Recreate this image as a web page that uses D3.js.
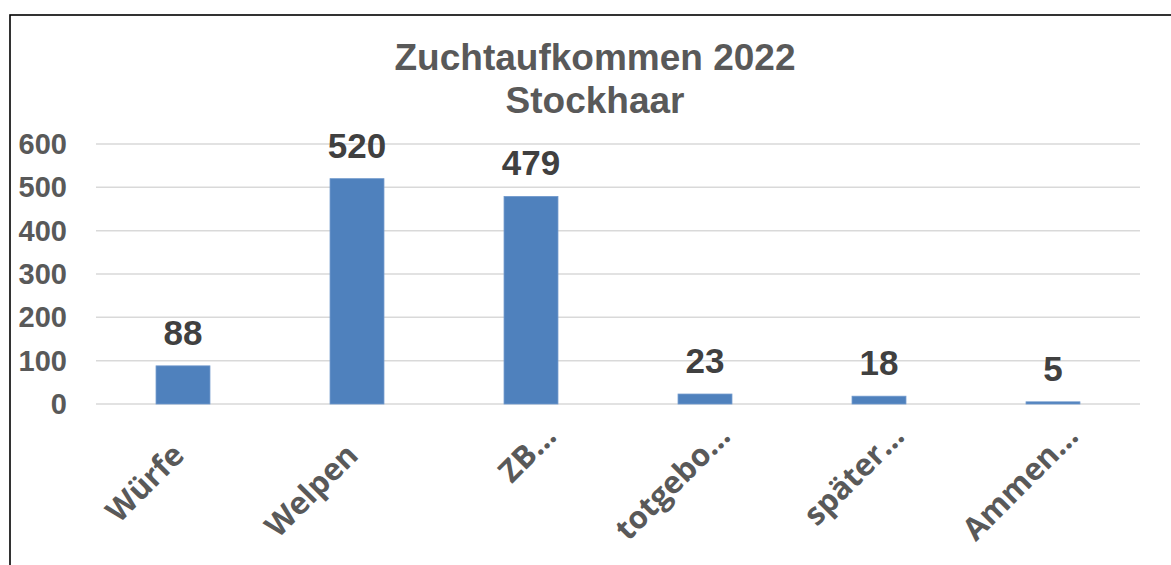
<!DOCTYPE html>
<html>
<head>
<meta charset="utf-8">
<script src="https://cdn.jsdelivr.net/npm/d3@7"></script>
<style>
  body { margin: 0; background: #fff; }
</style>
</head>
<body>
<div id="chart"></div>
<script>
const categories = ["Würfe", "Welpen", "ZB…", "totgebo…", "später…", "Ammen…"];
const values = [88, 520, 479, 23, 18, 5];
const yTicks = [0, 100, 200, 300, 400, 500, 600];
const titleLines = ["Zuchtaufkommen 2022", "Stockhaar"];

const width = 1171, height = 565;
const margin = { top: 144, right: 31, bottom: 161, left: 96 };

const svg = d3.select("#chart").append("svg")
    .attr("width", width)
    .attr("height", height);

svg.append("rect")
    .attr("width", "100%")
    .attr("height", "100%")
    .style("fill", "#fff");

// outer frame (right and bottom run off the picture)
svg.append("rect")
    .attr("x", 10)
    .attr("y", 15)
    .attr("width", 1300)
    .attr("height", 700)
    .attr("fill", "none")
    .attr("stroke", "#000")
    .attr("stroke-width", 1.6);

const x = d3.scaleBand()
    .domain(categories)
    .range([margin.left, width - margin.right])
    .paddingInner(0.69)
    .paddingOuter(0.345);

const y = d3.scaleLinear()
    .domain([0, 600])
    .range([height - margin.bottom, margin.top]);

// gridlines
svg.append("g")
    .selectAll("line")
    .data(yTicks)
    .enter().append("line")
    .attr("x1", margin.left)
    .attr("x2", width - margin.right)
    .attr("y1", d => y(d))
    .attr("y2", d => y(d))
    .attr("stroke", "#d9d9d9")
    .attr("stroke-width", 1.5);

// y tick labels
svg.append("g")
    .selectAll("text")
    .data(yTicks)
    .enter().append("text")
    .attr("x", 67)
    .attr("y", d => y(d))
    .attr("dy", "0.35em")
    .attr("text-anchor", "end")
    .attr("fill", "#595959")
    .style("font-family", "'Liberation Sans', Arial, sans-serif")
    .style("font-weight", "bold")
    .style("font-size", "29px")
    .text(d => d);

// bars
svg.append("g")
    .selectAll("rect")
    .data(values)
    .enter().append("rect")
    .attr("x", (d, i) => x(categories[i]))
    .attr("y", d => y(d))
    .attr("width", x.bandwidth())
    .attr("height", d => y(0) - y(d))
    .attr("fill", "#4f81bd")
    .attr("stroke", "#6f98cc")
    .attr("stroke-width", 0.8);

// data labels
svg.append("g")
    .selectAll("text")
    .data(values)
    .enter().append("text")
    .attr("x", (d, i) => x(categories[i]) + x.bandwidth() / 2)
    .attr("y", d => y(d) - 21)
    .attr("text-anchor", "middle")
    .attr("fill", "#404040")
    .style("font-family", "'Liberation Sans', Arial, sans-serif")
    .style("font-weight", "bold")
    .style("font-size", "35px")
    .text(d => d);

// category labels, rotated
svg.append("g")
    .selectAll("text")
    .data(categories)
    .enter().append("text")
    .attr("transform", d => {
        const cx = x(d) + x.bandwidth() / 2;
        const cut = d.endsWith("…");
        const ax = cut ? cx + 27 : cx + 3;
        const ay = cut ? 438 : 457;
        return "translate(" + ax + "," + ay + ") rotate(-45)";
    })
    .attr("text-anchor", "end")
    .attr("fill", "#595959")
    .style("font-family", "'Open Sans', sans-serif")
    .style("font-weight", "bold")
    .style("font-size", "31px")
    .text(d => d);

// title
svg.append("g")
    .selectAll("text")
    .data(titleLines)
    .enter().append("text")
    .attr("x", 595)
    .attr("y", (d, i) => 70 + i * 43)
    .attr("text-anchor", "middle")
    .attr("fill", "#595959")
    .style("font-family", "'Liberation Sans', Arial, sans-serif")
    .style("font-weight", "bold")
    .style("font-size", "37px")
    .text(d => d);
</script>
</body>
</html>
